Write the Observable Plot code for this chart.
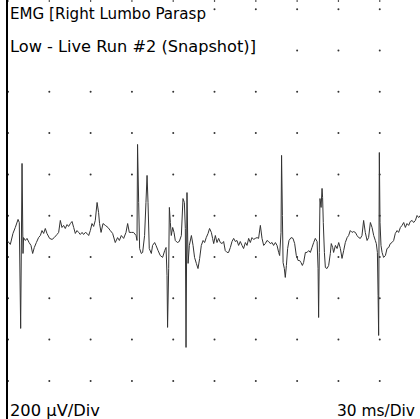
<!DOCTYPE html>
<html><head><meta charset="utf-8">
<script src="https://cdn.jsdelivr.net/npm/d3@7"></script>
<script src="https://cdn.jsdelivr.net/npm/@observablehq/plot@0.6"></script>
<style>
html,body{margin:0;padding:0;background:#fff;}
#chart{position:relative;width:420px;height:419px;overflow:hidden;}
#chart svg{display:block;}
</style></head><body><div id="chart"></div>
<script>
// EMG trace: time (ms) and amplitude (µV)
const timeMs = [
0.0,1.7,3.6,5.3,7.3,8.2,9.2,10.2,10.9,11.3,12.6,13.8,15.3,16.7,17.9,19.1,20.6,22.2,23.5,24.7,
25.9,27.1,28.3,30.2,32.0,33.6,35.6,36.8,38.0,39.2,40.4,41.6,42.9,44.0,45.3,46.5,47.7,48.9,50.1,51.3,
52.5,53.8,54.9,56.2,57.4,58.6,59.8,61.0,62.2,63.4,64.7,65.8,66.5,67.6,69.0,70.7,72.6,74.3,76.0,77.9,
79.6,80.9,82.3,84.0,85.7,86.9,88.1,89.6,91.2,93.0,93.7,94.1,94.9,95.6,96.8,97.8,99.2,100.2,101.0,101.7,
102.6,104.1,105.0,106.5,107.5,109.0,110.6,112.3,113.8,114.8,115.5,115.9,116.7,117.2,117.9,118.6,119.6,120.6,121.5,123.0,
124.4,125.9,127.1,128.1,128.8,129.3,130.0,130.8,131.7,133.2,134.4,135.5,136.8,138.0,139.2,140.4,141.7,142.8,144.0,145.3,
146.4,147.7,148.6,149.4,150.6,151.8,153.0,154.2,155.5,156.6,157.8,159.1,160.2,161.5,162.7,163.9,165.1,166.3,167.5,168.7,
170.0,171.1,172.4,173.6,174.8,176.0,177.2,178.4,179.6,180.9,182.0,183.3,184.5,185.7,186.9,188.1,189.3,190.5,191.8,192.9,
194.2,195.4,196.6,197.3,198.3,198.7,199.3,199.8,200.7,201.4,202.2,203.1,204.1,205.6,207.0,208.2,209.4,210.7,211.8,212.8,
213.8,214.7,216.0,217.2,218.4,219.6,220.8,222.0,223.2,224.5,225.2,225.6,226.1,226.6,227.4,228.1,228.5,229.0,229.8,230.5,
231.7,232.9,234.1,234.8,235.8,236.5,237.8,239.0,240.2,241.4,242.6,243.8,245.0,246.3,247.4,248.6,249.9,251.0,252.3,253.5,
254.7,255.9,257.1,258.3,259.5,260.8,261.9,263.2,264.4,265.6,266.8,267.5,268.3,268.8,269.2,269.7,270.2,270.9,271.7,272.8,
274.1,275.3,276.5,277.7,278.9,280.1,281.3,282.6,283.7,285.0,286.2,287.4,288.6,289.8,291.0,292.2,293.5,294.6,295.9,297.1,
298.3,299.5
];
const microvolts = [
-125,-139,-86,-57,-18,-33,-546,253,-183,-106,-120,-110,-130,-144,-183,-154,-130,-106,-96,-72,
-86,-62,-86,-110,-115,-106,-91,-81,-23,-57,-47,-62,-43,-52,-38,-28,-57,-86,-72,-81,
-91,-81,-91,-81,-86,-96,-72,-38,-52,-23,64,15,-38,-81,-38,-47,-57,-72,-86,-130,
-106,-120,-96,-110,-81,-38,-81,-81,-81,-96,-120,345,64,-159,-183,-178,-96,64,195,64,
-159,-183,-144,-130,-144,-169,-193,-202,-169,-154,-290,-541,-256,40,-33,-96,-57,-81,-120,-130,
-125,-96,83,64,-62,-638,112,-231,-144,-96,-144,-202,-231,-256,-207,-144,-120,-130,-106,-86,
-62,-81,-110,-135,-96,-130,-110,-130,-135,-125,-169,-178,-178,-154,-125,-110,-125,-120,-144,-125,
-144,-159,-130,-144,-110,-130,-106,-115,-110,-106,-110,-47,-110,-144,-135,-120,-125,-135,-130,-144,
-130,-144,-178,-193,-81,292,1,-227,-256,-299,-241,-159,-120,-106,-110,-135,-193,-217,-217,-227,
-241,-227,-178,-178,-169,-178,-154,-130,-110,-125,-256,-493,-178,83,40,132,88,-33,-178,-251,
-256,-241,-183,-135,-154,-178,-144,-159,-130,-159,-207,-169,-130,-106,-96,-72,-81,-77,-81,-96,
-106,-110,-96,-23,-81,-120,-106,-33,-57,-96,-120,-135,-178,-386,-580,306,-33,-144,-178,-202,
-193,-159,-154,-135,-130,-120,-86,-72,-81,-57,-47,-33,-57,-38,-47,-28,-23,-33,-23,1,
-9,1
];
// Grid: one dot per division (30 ms by 200 µV)
const gridTimesMs = [0, 30, 60, 90, 120, 150, 180, 210, 240, 270];
const gridMicrovolts = [1000, 800, 600, 400, 200, 0, -200, -400, -600, -800];
const titleLines = ["EMG [Right Lumbo Parasp", "Low - Live Run #2 (Snapshot)]"];
const verticalScaleLabel = "200 µV/Div";
const horizontalScaleLabel = "30 ms/Div";

const trace = timeMs.map((t, i) => ({t, v: microvolts[i]}));
const grid = gridTimesMs.flatMap(t => gridMicrovolts.map(v => ({t, v})));

const plot = Plot.plot({
  width: 420, height: 419,
  marginLeft: 7.5, marginRight: 0, marginTop: 8.7, marginBottom: 0,
  style: {background: "#fff", overflow: "visible"},
  x: {domain: [0, 299.6], axis: null},
  y: {domain: [-987, 1000], axis: null},
  marks: [
    Plot.dot(grid, {x: "t", y: "v", r: 1, fill: "#333", stroke: null}),
    Plot.tickX(gridTimesMs, {x: d => d, stroke: "#555", strokeWidth: 1.2, insetTop: -8.7, insetBottom: 417}),
    Plot.ruleX([0], {stroke: "#000", strokeWidth: 2, dx: -1, insetTop: -9}),
    Plot.line(trace, {x: "t", y: "v", stroke: "#333", strokeWidth: 1, curve: "linear"})
  ]
});
document.getElementById("chart").appendChild(plot);

const svg = d3.select(plot);
const font = "'DejaVu Sans', Verdana, sans-serif";
function label(txt, x, y, anchor, len) {
  const g = svg.append("g");
  const rect = g.append("rect").attr("fill", "#fff");
  const t = g.append("text").text(txt)
    .attr("x", x).attr("y", y)
    .attr("text-anchor", anchor)
    .attr("font-family", font).attr("font-size", 15.5)
    .attr("fill", "#000")
    .attr("textLength", len).attr("lengthAdjust", "spacingAndGlyphs");
  const b = t.node().getBBox();
  rect.attr("x", b.x - 2).attr("y", b.y).attr("width", b.width + 4).attr("height", b.height);
}
label(titleLines[0], 10, 18.5, "start", 196);
label(titleLines[1], 10, 51.5, "start", 246);
label(verticalScaleLabel, 10, 415.5, "start", 90);
label(horizontalScaleLabel, 415, 415.5, "end", 78);
</script></body></html>
